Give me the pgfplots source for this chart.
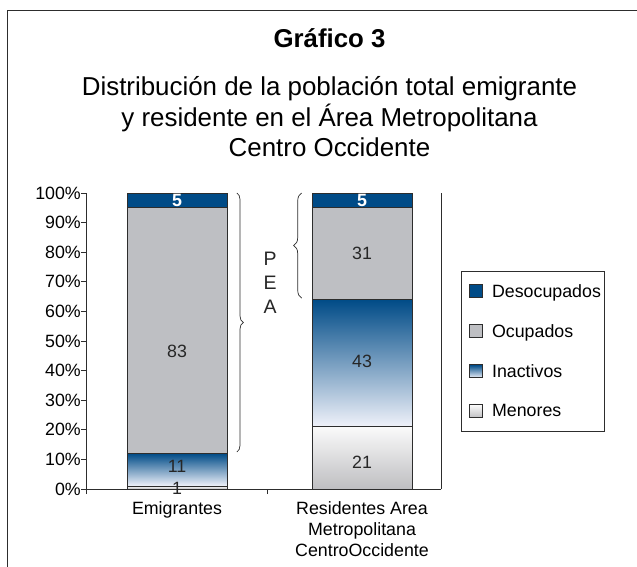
\documentclass[border=0pt]{standalone}
\usepackage{fontspec}
\setmainfont{Liberation Sans}
\usepackage{pgfplots}
\pgfplotsset{compat=1.18}
\usetikzlibrary{decorations.pathreplacing}
\definecolor{dblue}{RGB}{0,75,135}
\definecolor{ocgray}{RGB}{190,191,195}
\definecolor{inlow}{RGB}{240,242,250}
\definecolor{mentop}{RGB}{250,250,250}
\definecolor{menbot}{RGB}{190,190,193}
\definecolor{edge}{RGB}{45,45,45}
\newcommand\fs{\fontsize{17.8bp}{21bp}\selectfont}
\pgfplotsset{
  mylegend/.style={legend image code/.code={\draw[##1, draw=edge, line width=0.8bp] (5bp,-6.5bp) rectangle (18bp,6.5bp); \path (0bp,0bp) (27bp,0bp);}},
  common/.style={
    at={(0,0)}, anchor=south west,
    scale only axis, width=355bp, height=296bp,
    xmin=-0.492, xmax=1.427, ymin=0, ymax=100,
    ybar stacked, bar width=100bp, clip=false,
    every axis plot post/.append style={mylegend},
  },
  seg/.style={draw=edge, line width=0.8bp},
}
\begin{document}
\begin{tikzpicture}
\useasboundingbox (-86bp,-78bp) rectangle (551bp,489bp);
% Emigrantes + axes + legend
\begin{axis}[
  common,
  axis x line*=bottom, axis y line*=left,
  axis line style={edge, line width=0.8bp, -},
  tick align=outside, major tick length=5bp,
  tick style={edge, line width=0.8bp},
  ytick={0,10,...,100},
  yticklabel={\pgfmathprintnumber[assume math mode=true]{\tick}\%},
  yticklabel style={font=\fs, anchor=east, inner sep=0pt},
  xtick={-0.492,0.486}, xticklabels={},
  extra x ticks={0,1},
  extra x tick labels={Emigrantes,{Residentes Area\\Metropolitana\\CentroOccidente}},
  extra x tick style={major tick length=0pt},
  xticklabel style={font=\fs, align=center, anchor=north, inner sep=0pt, yshift=-12bp},
  reverse legend,
  legend style={at={(1.056,0.7365)}, anchor=north west, draw=edge, line width=0.8bp,
    inner xsep=3bp, inner ysep=0pt, row sep=0pt, font=\fs,
    cells={anchor=west}, nodes={inner xsep=0pt, inner ysep=0pt, minimum height=40bp}},
]
\addplot[seg, top color=mentop, bottom color=menbot] coordinates {(0,1)};
\addplot[seg, top color=dblue, bottom color=inlow] coordinates {(0,11)};
\addplot[seg, fill=ocgray] coordinates {(0,83)};
\addplot[seg, fill=dblue] coordinates {(0,5)};
\legend{Menores, Inactivos, Ocupados, Desocupados}
\draw[edge, line width=0.8bp] (rel axis cs:1,0) -- (rel axis cs:1,1);
\end{axis}
% Residentes
\begin{axis}[common, hide axis]
\addplot[seg, top color=mentop, bottom color=menbot] coordinates {(1,21)};
\addplot[seg, top color=dblue, bottom color=inlow] coordinates {(1,43)};
\addplot[seg, fill=ocgray] coordinates {(1,31)};
\addplot[seg, fill=dblue] coordinates {(1,5)};
\end{axis}
% annotations on top
\begin{axis}[at={(0,0)}, anchor=south west, scale only axis, width=355bp, height=296bp,
  xmin=-0.492, xmax=1.427, ymin=0, ymax=100, hide axis, clip=false]
\node[font=\fs, text=black!85] at (axis cs:0,0.3) {1};
\node[font=\fs, text=black!85] at (axis cs:0,7.8) {11};
\node[font=\fs, text=black!85] at (axis cs:0,46.4) {83};
\node[font=\fs\bfseries, text=white] at (axis cs:0,97.4) {5};
\node[font=\fs, text=black!85] at (axis cs:1,9) {21};
\node[font=\fs, text=black!85] at (axis cs:1,43) {43};
\node[font=\fs, text=black!85] at (axis cs:1,79.7) {31};
\node[font=\fs\bfseries, text=white] at (axis cs:1,97.6) {5};
\draw[edge, line width=0.7bp, decorate, decoration={brace, amplitude=6.5bp}] (axis cs:0.323,100) -- (axis cs:0.323,12.5);
\draw[edge, line width=0.7bp, decorate, decoration={brace, amplitude=8bp}] (axis cs:0.674,64.5) -- (axis cs:0.674,100);
\node[font=\fontsize{19.5bp}{22bp}\selectfont, text=black!85] at (axis cs:0.503,77.7) {P};
\node[font=\fontsize{19.5bp}{22bp}\selectfont, text=black!85] at (axis cs:0.503,69.6) {E};
\node[font=\fontsize{19.5bp}{22bp}\selectfont, text=black!85] at (axis cs:0.503,61.5) {A};
\end{axis}
\draw[edge, line width=1bp] (-78bp,-78bp) -- (-78bp,478bp) -- (551bp,478bp);
\node[anchor=base, font=\fontsize{25.8bp}{30bp}\bfseries] at (243.5bp,441bp) {Gráfico 3};
\node[anchor=base, font=\fontsize{25.9bp}{30bp}\selectfont] at (243.5bp,393bp) {Distribución de la población total emigrante};
\node[anchor=base, font=\fontsize{25.9bp}{30bp}\selectfont] at (243.5bp,362.5bp) {y residente en el Área Metropolitana};
\node[anchor=base, font=\fontsize{25.9bp}{30bp}\selectfont] at (243.5bp,332bp) {Centro Occidente};
\end{tikzpicture}
\end{document}
